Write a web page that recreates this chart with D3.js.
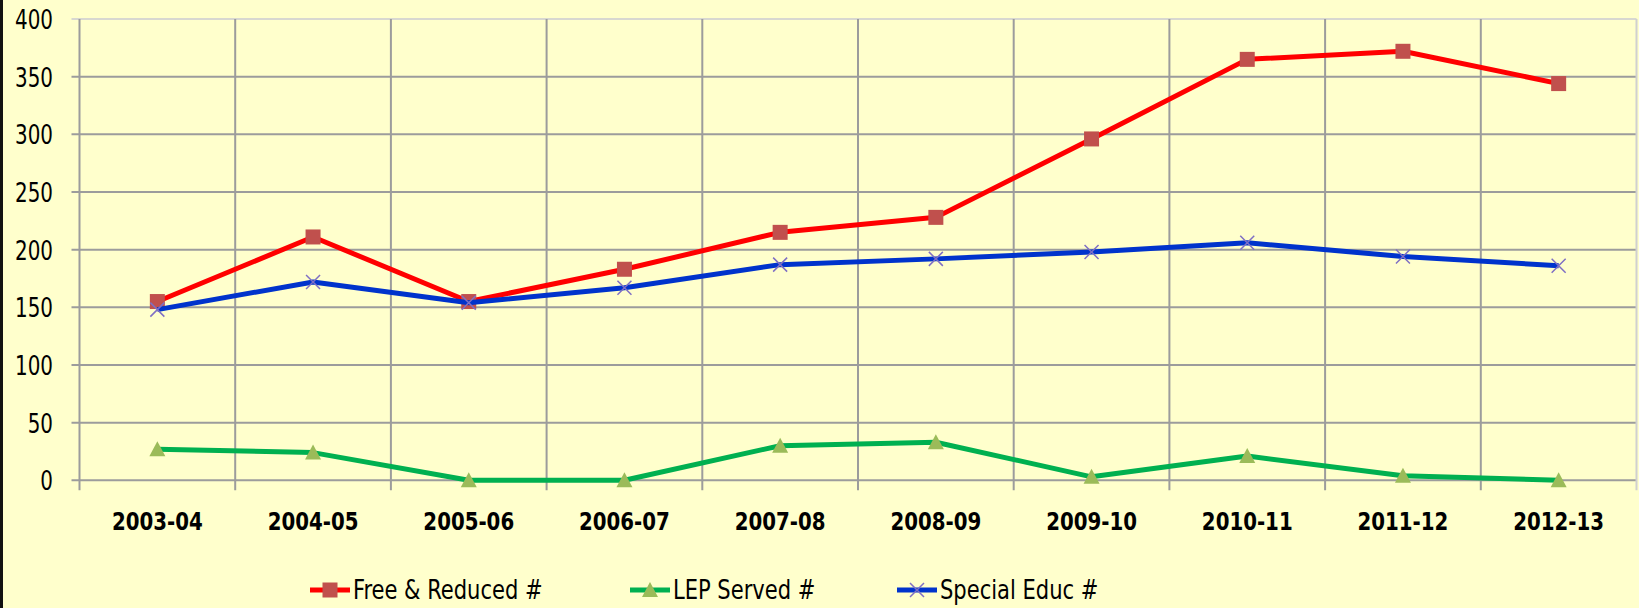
<!DOCTYPE html>
<html>
<head>
<meta charset="utf-8">
<script src="https://cdn.jsdelivr.net/npm/d3@7"></script>
<style>
  body { margin: 0; background: #FFFFCC; }
  svg { display: block; }
  .lbl { font-family: "DejaVu Sans Condensed", "Liberation Sans", sans-serif; fill: #000; }
</style>
</head>
<body>
<div id="chart"></div>
<script>
const years = ["2003-04","2004-05","2005-06","2006-07","2007-08","2008-09","2009-10","2010-11","2011-12","2012-13"];
const freeReduced = [155, 211, 155, 183, 215, 228, 296, 365, 372, 344];
const lepServed   = [27, 24, 0, 0, 30, 33, 3, 21, 4, 0];
const specialEduc = [148, 172, 154, 167, 187, 192, 198, 206, 194, 186];
const yTicks = [0, 50, 100, 150, 200, 250, 300, 350, 400];
const seriesNames = ["Free & Reduced #", "LEP Served #", "Special Educ #"];

const W = 1639, H = 608;
const plot = {left: 79.5, right: 1636.5, top: 19, bottom: 480.3};

const svg = d3.select('#chart')
  .append('svg')
  .attr("width", W)
  .attr("height", H);

svg.append("rect").attr("width", W).attr("height", H).attr("fill", "#FFFFCC");
svg.append("rect").attr("x", 0).attr("y", 0).attr("width", 3).attr("height", H).attr("fill", "#111");

const x = d3.scaleBand()
  .domain(years)
  .range([plot.left, plot.right]);

const y = d3.scaleLinear()
  .domain([0, 400])
  .range([plot.bottom, plot.top]);

const cx = d => x(d) + x.bandwidth() / 2;

// horizontal grid
svg.append("g")
  .selectAll("line")
  .data(yTicks)
  .join("line")
    .attr("x1", plot.left - 8)
    .attr("x2", plot.right)
    .attr("y1", d => y(d))
    .attr("y2", d => y(d))
    .attr("stroke", d => d === 400 ? "#D8D8D0" : "#9C9C9C")
    .attr("stroke-width", 2);

// vertical grid at category boundaries
const bounds = years.map(d => x(d)).concat([plot.right]);
svg.append("g")
  .selectAll("line")
  .data(bounds)
  .join("line")
    .attr("x1", d => d)
    .attr("x2", d => d)
    .attr("y1", plot.top)
    .attr("y2", plot.bottom + 10)
    .attr("stroke", (d, i) => i === bounds.length - 1 ? "#D0D0D0" : "#9C9C9C")
    .attr("stroke-width", 2);

// y labels (narrowed a bit, Calibri-ish)
svg.append("g")
  .selectAll("text")
  .data(yTicks)
  .join("text")
    .attr("class", "lbl")
    .attr("transform", d => `translate(53,${y(d) + 10}) scale(0.82,1)`)
    .attr("text-anchor", "end")
    .style("font-size", "27px")
    .text(d => d);

// x labels
svg.append("g")
  .selectAll("text")
  .data(years)
  .join("text")
    .attr("class", "lbl")
    .attr("transform", d => `translate(${cx(d)},530) scale(0.88,1)`)
    .attr("text-anchor", "middle")
    .style("font-size", "25px")
    .style("font-weight", "bold")
    .text(d => d);

const line = d3.line()
  .x((d, i) => cx(years[i]))
  .y(d => y(d));

const series = [
  {name: seriesNames[0], values: freeReduced, stroke: "#FF0000", marker: "square", fill: "#C0504D"},
  {name: seriesNames[1], values: lepServed,   stroke: "#00B050", marker: "triangle", fill: "#9BBB59"},
  {name: seriesNames[2], values: specialEduc, stroke: "#0033CC", marker: "x", fill: "#7F6FC4"}
];

function drawMarker(g, type, fill) {
  if (type === "square") {
    g.append("rect").attr("x", -7.5).attr("y", -7.5).attr("width", 15).attr("height", 15).attr("fill", fill);
  } else if (type === "triangle") {
    g.append("path").attr("d", "M0,-8L8,7L-8,7Z").attr("fill", fill);
  } else {
    g.append("path").attr("d", "M-7,-7L7,7M-7,7L7,-7").attr("stroke", fill).attr("stroke-width", 1.5).attr("fill", "none");
  }
}

series.forEach(s => {
  svg.append("path")
    .datum(s.values)
    .attr("d", line)
    .attr("fill", "none")
    .attr("stroke", s.stroke)
    .attr("stroke-width", 5)
    .attr("stroke-linejoin", "round");

  svg.append("g")
    .selectAll("g")
    .data(s.values)
    .join("g")
      .attr("transform", (d, i) => `translate(${cx(years[i])},${y(d)})`)
      .each(function () { drawMarker(d3.select(this), s.marker, s.fill); });
});

// legend
const legendX = [310, 630, 897];
const legend = svg.append("g")
  .selectAll("g")
  .data(series)
  .join("g")
    .attr("transform", (d, i) => `translate(${legendX[i]},590)`);

legend.append("line")
  .attr("x1", 0).attr("x2", 40)
  .attr("stroke", d => d.stroke)
  .attr("stroke-width", 5);

legend.each(function (d) {
  const m = d3.select(this).append("g").attr("transform", "translate(20,0)");
  drawMarker(m, d.marker, d.fill);
});

legend.append("text")
  .attr("class", "lbl")
  .attr("transform", "translate(43,9) scale(0.9,1)")
  .style("font-size", "26px")
  .text(d => d.name);
</script>
</body>
</html>
